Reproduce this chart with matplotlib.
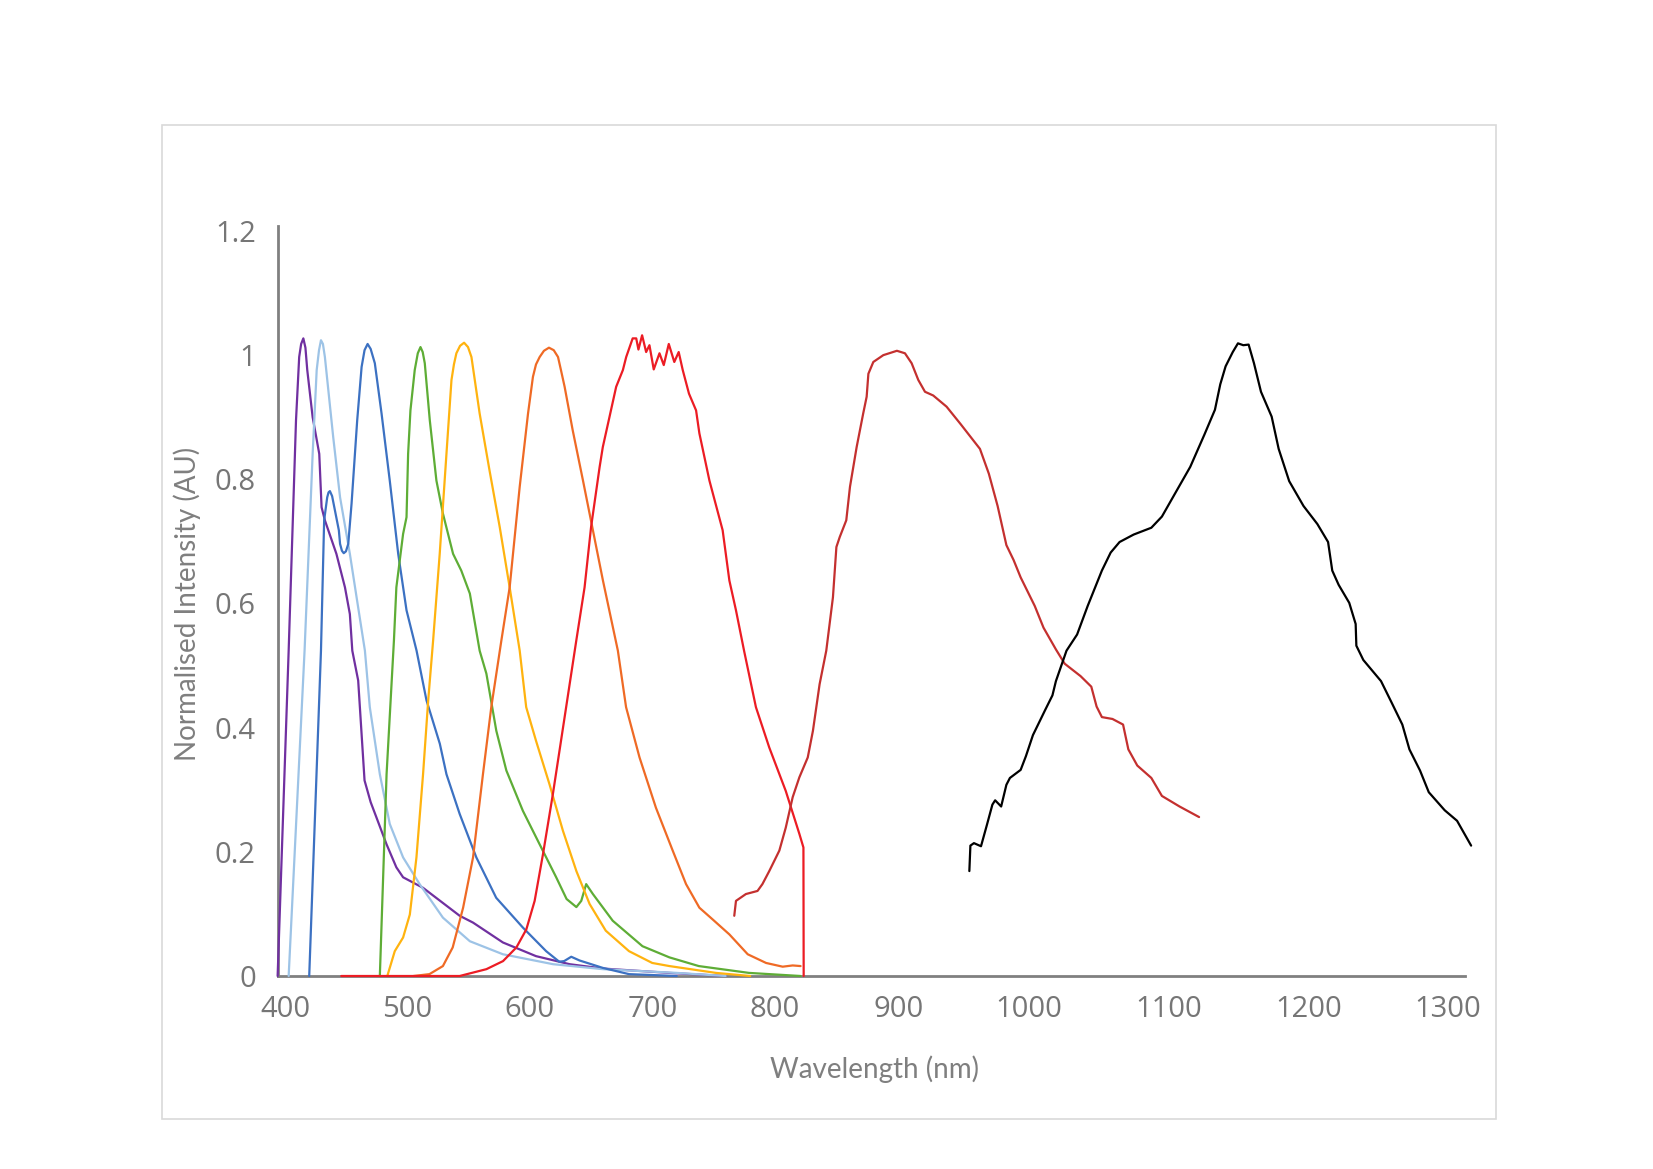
import numpy as np
import matplotlib
matplotlib.use("Agg")
import matplotlib.pyplot as plt
from matplotlib.patches import Rectangle

# category-axis look: wavelength -> horizontal pixel position (labels not evenly spaced)
tick_wl = [400, 500, 600, 700, 800, 900, 1000, 1100, 1200, 1300]
tick_px = [285.0, 407.4, 529.9, 652.3, 774.7, 898.2, 1029.1, 1168.4, 1308.8, 1448.1]
tick_labels = [str(t) for t in tick_wl]
y_ticks = [0, 0.2, 0.4, 0.6, 0.8, 1, 1.2]
y_labels = ["0", "0.2", "0.4", "0.6", "0.8", "1", "1.2"]

# spectra (wavelength nm, normalised intensity)
purple_wl = [394, 403, 409, 411.6, 413.2, 415, 416.7, 418.2, 422.6, 428, 429.9, 432.6, 442, 449, 453, 455,
             459.8, 465, 470, 474.8, 483, 491, 496.5, 512.8, 542.7, 553.6, 578, 605, 632.5, 659.7, 714, 760]
purple_v = [0, 0.524, 0.895, 0.997, 1.018, 1.027, 1.012, 0.976, 0.900, 0.841, 0.755, 0.734, 0.680, 0.626,
            0.583, 0.524, 0.476, 0.315, 0.280, 0.255, 0.212, 0.175, 0.159, 0.142, 0.097, 0.086, 0.054,
            0.032, 0.019, 0.012, 0.005, 0.0]

lblue_wl = [403, 416, 422.6, 425.9, 427.8, 429.4, 431, 432.6, 439.4, 445, 453, 458.5, 465.3, 469.3, 477.5,
            485.6, 496.5, 510, 529, 551, 578, 619, 659.7, 720, 760]
lblue_v = [0, 0.524, 0.841, 0.976, 1.008, 1.024, 1.018, 0.997, 0.868, 0.771, 0.680, 0.610, 0.524, 0.433,
           0.325, 0.245, 0.191, 0.148, 0.094, 0.056, 0.035, 0.019, 0.011, 0.005, 0]

blue_wl = [419.8, 429.4, 432, 434.5, 435.6, 436.7, 438.5, 440.8, 444, 445, 446.5, 448, 449.8, 451.7, 454.4,
           459, 462.6, 465, 467.5, 470, 473.4, 478.9, 485.6, 492.5, 499.3, 507.5, 515.6, 526.5, 531.9,
           542.7, 556.3, 572.5, 594.3, 613.3, 624, 628, 633.8, 640.6, 659.7, 681, 720]
blue_v = [0, 0.524, 0.734, 0.771, 0.779, 0.781, 0.773, 0.750, 0.718, 0.696, 0.685, 0.681, 0.684, 0.696,
          0.761, 0.895, 0.981, 1.008, 1.018, 1.010, 0.987, 0.906, 0.798, 0.680, 0.589, 0.524, 0.444,
          0.374, 0.325, 0.261, 0.191, 0.126, 0.078, 0.040, 0.023, 0.024, 0.031, 0.025, 0.013, 0.003, 0]

green_wl = [477.5, 483, 489, 491, 496.5, 499.3, 500.6, 502.5, 506, 508.5, 510.7, 512.5, 514.2, 518.3, 523.7,
            529, 537.3, 544, 551, 559, 564.5, 572.6, 580.8, 594.3, 608, 621.5, 630, 638, 642, 646, 651.5,
            667.7, 692, 714, 738, 779, 821]
green_v = [0, 0.325, 0.540, 0.626, 0.712, 0.739, 0.841, 0.911, 0.976, 1.003, 1.013, 1.005, 0.987, 0.895,
           0.798, 0.745, 0.680, 0.653, 0.616, 0.524, 0.487, 0.395, 0.331, 0.266, 0.212, 0.159, 0.124,
           0.111, 0.121, 0.148, 0.132, 0.089, 0.048, 0.030, 0.016, 0.005, 0]

amber_wl = [483.6, 489.7, 496.5, 502, 507.4, 512.8, 517, 521, 526.4, 531.9, 536, 538, 540, 543, 546.3, 549.5,
            552.3, 559, 567, 575.4, 583.5, 591.7, 597, 605, 616, 627, 638, 648.8, 662, 681, 700, 714, 752,
            780]
amber_v = [0, 0.040, 0.062, 0.099, 0.191, 0.325, 0.444, 0.540, 0.680, 0.841, 0.960, 0.985, 1.003, 1.015,
           1.020, 1.013, 0.997, 0.906, 0.815, 0.723, 0.626, 0.524, 0.433, 0.379, 0.309, 0.234, 0.169,
           0.116, 0.073, 0.040, 0.021, 0.016, 0.005, 0]

orange_wl = [505, 518, 529, 537, 545.5, 553.6, 561.7, 568.5, 576.7, 583.5, 591.7, 598.5, 602.5, 605, 608,
             611.5, 615.6, 619.5, 623, 625.5, 628.4, 635, 643.4, 651.5, 659.7, 671.9, 678.6, 689.6, 703,
             716.7, 727.6, 738.5, 749.4, 763, 778, 793, 806.5, 814.6, 821]
orange_v = [0, 0.003, 0.016, 0.046, 0.110, 0.191, 0.325, 0.433, 0.540, 0.626, 0.788, 0.906, 0.965, 0.985,
            0.997, 1.007, 1.012, 1.008, 0.997, 0.975, 0.949, 0.879, 0.798, 0.718, 0.637, 0.524, 0.433,
            0.352, 0.271, 0.202, 0.148, 0.110, 0.091, 0.067, 0.035, 0.021, 0.015, 0.017, 0.016]

red_wl = [446, 542.7, 564.5, 578.1, 589, 597.1, 603.9, 610.7, 618.8, 628.4, 637.9, 644.7, 650, 657, 659.6,
          665, 670.5, 676, 678.7, 684, 686.9, 688.7, 691.7, 695, 697.7, 701.2, 705.9, 709.4, 713.5, 718,
          721.6, 724.9, 730, 735.8, 738.5, 746.7, 757.5, 763, 768.4, 775, 784.7, 795.6, 809, 820, 823.3,
          823.5]
red_v = [0, 0, 0.011, 0.024, 0.046, 0.075, 0.121, 0.196, 0.293, 0.417, 0.540, 0.626, 0.723, 0.820, 0.852,
         0.900, 0.949, 0.976, 0.997, 1.027, 1.027, 1.009, 1.032, 1.005, 1.016, 0.977, 1.003, 0.984, 1.018,
         0.989, 1.005, 0.976, 0.938, 0.911, 0.874, 0.798, 0.718, 0.637, 0.589, 0.524, 0.433, 0.368, 0.298,
         0.229, 0.207, 0.0]

dred_wl = [767, 768.4, 776.5, 786, 790, 795.6, 803.8, 809, 814.6, 820, 826.8, 831, 836.4, 841.8, 847.2, 850,
           852.7, 858, 861, 866.4, 871.7, 874.5, 875.9, 879.9, 888, 899, 905.2, 910.3, 915.4, 920.5,
           926.8, 937, 947.7, 962.5, 969.3, 976, 982.7, 988.2, 993.6, 1004.1, 1010.4, 1019.3, 1025.6,
           1037, 1044.7, 1048.5, 1052.3, 1059.9, 1067.5, 1071.3, 1077.7, 1087.8, 1095.4, 1108, 1121.9]
dred_v = [0.097, 0.121, 0.132, 0.137, 0.148, 0.169, 0.202, 0.239, 0.288, 0.320, 0.352, 0.395, 0.470, 0.524,
          0.610, 0.691, 0.707, 0.734, 0.788, 0.852, 0.906, 0.933, 0.970, 0.989, 1.000, 1.007, 1.003, 0.987,
          0.960, 0.941, 0.935, 0.917, 0.889, 0.849, 0.809, 0.757, 0.694, 0.670, 0.642, 0.596, 0.561,
          0.526, 0.503, 0.483, 0.466, 0.434, 0.417, 0.414, 0.405, 0.365, 0.339, 0.319, 0.290, 0.273, 0.256]

black_wl = [954.4, 955.2, 957.9, 963.3, 967.9, 972, 974.1, 978.7, 982.7, 985.4, 993.6, 997.6, 1002.8, 1011.7,
            1016.8, 1019.3, 1026.9, 1034.5, 1042.1, 1052.3, 1058.6, 1065, 1075.1, 1087.8, 1095.4, 1105.5,
            1115.6, 1125.7, 1133.2, 1137, 1140.8, 1145.9, 1149.6, 1153.4, 1157.2, 1161, 1166, 1173.6,
            1178.6, 1186.1, 1196.3, 1206.2, 1213.9, 1216.9, 1221.5, 1229.1, 1233.7, 1234.2, 1239.2,
            1251.9, 1259.6, 1267.2, 1272.3, 1279.9, 1286.2, 1297.6, 1306.5, 1316.6]
black_v = [0.169, 0.210, 0.214, 0.209, 0.244, 0.276, 0.283, 0.273, 0.308, 0.319, 0.332, 0.354, 0.388, 0.429,
           0.452, 0.475, 0.524, 0.550, 0.596, 0.653, 0.682, 0.699, 0.711, 0.722, 0.740, 0.780, 0.820,
           0.872, 0.912, 0.953, 0.982, 1.005, 1.019, 1.016, 1.017, 0.987, 0.941, 0.901, 0.849, 0.797,
           0.757, 0.728, 0.699, 0.653, 0.630, 0.601, 0.567, 0.532, 0.509, 0.475, 0.440, 0.405, 0.365,
           0.331, 0.296, 0.267, 0.250, 0.210]

series = [
    (purple_wl, purple_v, "#7030A0"),
    (lblue_wl, lblue_v, "#9DC3E6"),
    (blue_wl, blue_v, "#3C71C2"),
    (green_wl, green_v, "#5EAD36"),
    (amber_wl, amber_v, "#FFB30F"),
    (orange_wl, orange_v, "#EF6A25"),
    (red_wl, red_v, "#EC1C24"),
    (dred_wl, dred_v, "#C4302F"),
    (black_wl, black_v, "#000000"),
]

# extend the mapping a little beyond both ends
map_wl = np.array([0] + tick_wl + [2000], dtype=float)
map_px = np.array([tick_px[0] - 400 * 1.226] + tick_px + [tick_px[-1] + 700 * 1.393])


def fwd(x):
    return np.interp(x, map_wl, map_px)


def inv(p):
    return np.interp(p, map_px, map_wl)


W, H = 1653, 1169
fig = plt.figure(figsize=(W / 100, H / 100), dpi=100)
fig.patches.append(Rectangle((162 / W, 1 - 1119 / H), (1496 - 162) / W, (1119 - 125) / H,
                             transform=fig.transFigure, fill=False, edgecolor="#D9D9D9", linewidth=1.2))

ax = fig.add_axes([278 / W, 1 - 976 / H, (1465 - 278) / W, (976 - 226) / H])
ax.set_xscale("function", functions=(fwd, inv))

for wl, v, c in series:
    ax.plot(wl, v, color=c, linewidth=1.6, clip_on=False, zorder=3,
            solid_joinstyle="round", solid_capstyle="round")

ax.set_xlim(394.3, 1312.2)
ax.set_ylim(0, 1.208)

grey = "#767676"
tick_font = ["Open Sans", "DejaVu Sans"]
ax.set_xticks(tick_wl)
ax.set_xticklabels(tick_labels, fontsize=21, color=grey, family=tick_font)
ax.set_yticks(y_ticks)
ax.set_yticklabels(y_labels, fontsize=21, color=grey, family=tick_font)
ax.xaxis.set_minor_locator(plt.NullLocator())
ax.tick_params(axis="x", length=0, pad=14)
ax.tick_params(axis="y", length=0, pad=16)

for s in ["top", "right"]:
    ax.spines[s].set_visible(False)
for s in ["left", "bottom"]:
    ax.spines[s].set_color("#808080")
    ax.spines[s].set_linewidth(2)
    ax.spines[s].set_zorder(2)

title_font = ["Lato", "DejaVu Sans"]
fig.text(874 / W, 1 - 1069 / H, "Wavelength (nm)", ha="center", va="center",
         fontsize=20, color="#7F7F7F", family=title_font)
fig.text(187 / W, 1 - 604 / H, "Normalised Intensity (AU)", ha="center", va="center",
         rotation=90, fontsize=20, color="#7F7F7F", family=title_font)

fig.savefig("out.png", dpi=100, facecolor="white")
